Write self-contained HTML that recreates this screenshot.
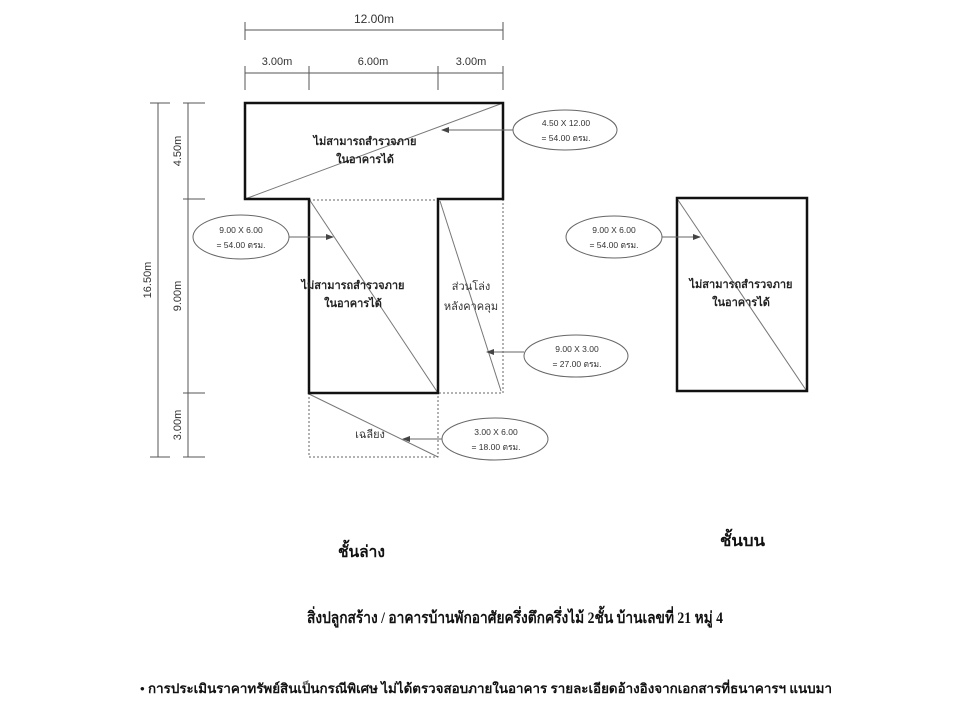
<!DOCTYPE html>
<html><head><meta charset="utf-8"><style>html,body{margin:0;padding:0;background:#fff}svg{display:block}</style></head>
<body>
<svg width="960" height="720" viewBox="0 0 960 720" xmlns="http://www.w3.org/2000/svg" font-family="Liberation Sans, sans-serif">
<defs><marker id="ar" markerWidth="8" markerHeight="6" refX="7" refY="3" orient="auto"><path d="M0,0 L8,3 L0,6z" fill="#444"/></marker></defs>
<g stroke="#555" stroke-width="1" fill="none">
<line x1="245" y1="30" x2="503" y2="30"/>
<line x1="245" y1="22" x2="245" y2="40"/><line x1="503" y1="22" x2="503" y2="40"/>
<line x1="245" y1="73" x2="503" y2="73"/>
<line x1="245" y1="66" x2="245" y2="90"/><line x1="309" y1="66" x2="309" y2="90"/>
<line x1="438" y1="66" x2="438" y2="90"/><line x1="503" y1="66" x2="503" y2="90"/>
<line x1="158" y1="103" x2="158" y2="457"/>
<line x1="150" y1="103" x2="170" y2="103"/><line x1="150" y1="457" x2="170" y2="457"/>
<line x1="188" y1="103" x2="188" y2="457"/>
<line x1="183" y1="103" x2="205" y2="103"/><line x1="183" y1="199" x2="205" y2="199"/>
<line x1="183" y1="393" x2="205" y2="393"/><line x1="183" y1="457" x2="205" y2="457"/>
<line x1="245" y1="199" x2="503" y2="103" stroke="#777"/>
<line x1="309" y1="199" x2="438" y2="393" stroke="#777"/>
<line x1="440" y1="201" x2="501" y2="391" stroke="#777"/>
<line x1="309" y1="394" x2="438" y2="457" stroke="#777"/>
<line x1="678" y1="200" x2="806" y2="390" stroke="#777"/>
<g stroke-dasharray="2,2" stroke="#666">
<line x1="309" y1="200" x2="438" y2="200"/>
<polyline points="503,199 503,393 438,393"/>
<polyline points="309,393 309,457 438,457 438,393"/>
</g>
</g>
<polygon points="245,103 503,103 503,199 438,199 438,393 309,393 309,199 245,199" fill="none" stroke="#111" stroke-width="2.5"/>
<rect x="677" y="198" width="130" height="193" fill="none" stroke="#111" stroke-width="2.5"/>
<g stroke="#666" fill="none">
<ellipse cx="565" cy="130" rx="52" ry="20"/>
<line x1="513" y1="130" x2="442" y2="130" marker-end="url(#ar)"/>
<ellipse cx="241" cy="237" rx="48" ry="22"/>
<line x1="289" y1="237" x2="333" y2="237" marker-end="url(#ar)"/>
<ellipse cx="614" cy="237" rx="48" ry="21"/>
<line x1="662" y1="237" x2="700" y2="237" marker-end="url(#ar)"/>
<ellipse cx="576" cy="356" rx="52" ry="21"/>
<line x1="524" y1="352" x2="487" y2="352" marker-end="url(#ar)"/>
<ellipse cx="495" cy="439" rx="53" ry="21"/>
<line x1="442" y1="439" x2="403" y2="439" marker-end="url(#ar)"/>
</g>
<g fill="#333" font-size="11">
<text x="374" y="23" text-anchor="middle" font-size="12">12.00m</text>
<text x="277" y="65" text-anchor="middle">3.00m</text>
<text x="373" y="65" text-anchor="middle">6.00m</text>
<text x="471" y="65" text-anchor="middle">3.00m</text>
<text transform="translate(151,280) rotate(-90)" text-anchor="middle">16.50m</text>
<text transform="translate(181,151) rotate(-90)" text-anchor="middle">4.50m</text>
<text transform="translate(181,296) rotate(-90)" text-anchor="middle">9.00m</text>
<text transform="translate(181,425) rotate(-90)" text-anchor="middle">3.00m</text>
<g font-size="8.5" text-anchor="middle">
<text x="566" y="126">4.50 X 12.00</text><text x="566" y="141">= 54.00 ตรม.</text>
<text x="241" y="233">9.00 X 6.00</text><text x="241" y="248">= 54.00 ตรม.</text>
<text x="614" y="233">9.00 X 6.00</text><text x="614" y="248">= 54.00 ตรม.</text>
<text x="577" y="352">9.00 X 3.00</text><text x="577" y="367">= 27.00 ตรม.</text>
<text x="496" y="435">3.00 X 6.00</text><text x="496" y="450">= 18.00 ตรม.</text>
</g>
<g font-family="Liberation Sans, Noto Sans CJK SC, sans-serif" font-weight="bold" font-size="11" text-anchor="middle" fill="#222">
<text x="365" y="145">ไม่สามารถสำรวจภาย</text><text x="365" y="163">ในอาคารได้</text>
<text x="353" y="289">ไม่สามารถสำรวจภาย</text><text x="353" y="307">ในอาคารได้</text>
<text x="741" y="288">ไม่สามารถสำรวจภาย</text><text x="741" y="306">ในอาคารได้</text>
</g>
<g font-family="Liberation Sans, Noto Sans CJK SC, sans-serif" font-size="11" text-anchor="middle">
<text x="471" y="290">ส่วนโล่ง</text><text x="471" y="310">หลังคาคลุม</text>
<text x="370" y="438">เฉลียง</text>
</g>
</g>
<g font-family="Liberation Serif, Noto Serif CJK SC, serif" font-weight="bold" fill="#111">
<text x="338" y="557" font-size="16" textLength="47" lengthAdjust="spacingAndGlyphs">ชั้นล่าง</text>
<text x="720" y="546" font-size="16" textLength="45" lengthAdjust="spacingAndGlyphs">ชั้นบน</text>
<text x="307" y="623" font-size="16" textLength="416" lengthAdjust="spacingAndGlyphs">สิ่งปลูกสร้าง / อาคารบ้านพักอาศัยครึ่งตึกครึ่งไม้ 2ชั้น บ้านเลขที่ 21 หมู่ 4</text>
<text x="140" y="693" font-size="13" textLength="692" lengthAdjust="spacingAndGlyphs">• การประเมินราคาทรัพย์สินเป็นกรณีพิเศษ ไม่ได้ตรวจสอบภายในอาคาร รายละเอียดอ้างอิงจากเอกสารที่ธนาคารฯ แนบมา</text>
</g>
</svg>
</body></html>
